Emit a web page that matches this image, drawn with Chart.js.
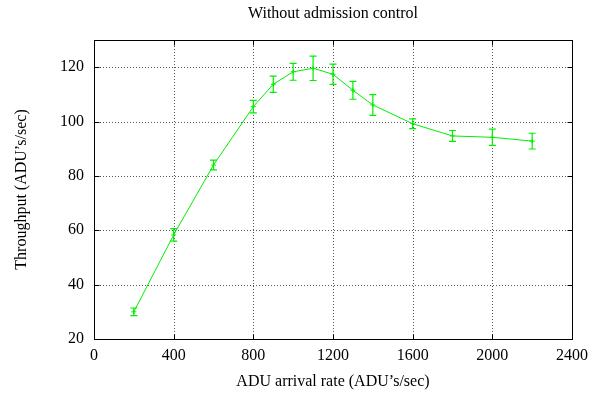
<!DOCTYPE html>
<html>
<head>
<meta charset="utf-8">
<script src="https://cdn.jsdelivr.net/npm/chart.js@4/dist/chart.umd.min.js"></script>
<style>
  html, body { margin: 0; padding: 0; background: #fff; }
  #wrap { width: 605px; height: 394px; }
</style>
</head>
<body>
<div id="wrap"><canvas id="c" width="605" height="394"></canvas></div>
<script>
// Offered load (ADU's/sec) and measured throughput with its error half-width
const arrivalRate = [200, 400, 600, 800, 900, 1000, 1100, 1200, 1300, 1400, 1600, 1800, 2000, 2200];
const throughput  = [30.0, 58.3, 84.0, 105.5, 113.7, 118.3, 119.6, 117.4, 111.5, 106.1, 99.2, 94.7, 94.2, 92.8];
const errorHalf   = [1.4, 2.3, 1.8, 2.3, 3.0, 3.1, 4.5, 3.7, 3.3, 3.8, 1.8, 2.0, 3.0, 2.9];

const xTicks = [0, 400, 800, 1200, 1600, 2000, 2400];
const yTicks = [20, 40, 60, 80, 100, 120];

const GREEN = '#00ee00';
const FONT = "'Liberation Serif', 'Times New Roman', serif";

const snap = v => Math.round(v) + 0.5;

// Dotted grid at the interior tick positions
const dottedGrid = {
  id: 'dottedGrid',
  beforeDatasetsDraw(chart) {
    const {ctx, chartArea: a, scales: {x, y}} = chart;
    ctx.save();
    ctx.strokeStyle = '#555';
    ctx.lineWidth = 1;
    ctx.setLineDash([1, 2]);
    ctx.beginPath();
    xTicks.forEach(v => {
      if (v === x.min || v === x.max) return;
      const px = snap(x.getPixelForValue(v));
      ctx.moveTo(px, a.top); ctx.lineTo(px, a.bottom);
    });
    yTicks.forEach(v => {
      if (v === y.min || v === y.max) return;
      const py = snap(y.getPixelForValue(v));
      ctx.moveTo(a.left, py); ctx.lineTo(a.right, py);
    });
    ctx.stroke();
    ctx.restore();
  }
};

// Vertical error bars with caps, drawn through the chart's scales
const errorBars = {
  id: 'errorBars',
  afterDatasetsDraw(chart) {
    const {ctx, scales: {x, y}} = chart;
    ctx.save();
    ctx.strokeStyle = GREEN;
    ctx.lineWidth = 1.2;
    const cap = 3.5;
    arrivalRate.forEach((r, i) => {
      const px = x.getPixelForValue(r);
      const top = y.getPixelForValue(throughput[i] + errorHalf[i]);
      const bot = y.getPixelForValue(throughput[i] - errorHalf[i]);
      ctx.beginPath();
      ctx.moveTo(px, top); ctx.lineTo(px, bot);
      ctx.moveTo(px - cap, top); ctx.lineTo(px + cap, top);
      ctx.moveTo(px - cap, bot); ctx.lineTo(px + cap, bot);
      ctx.stroke();
    });
    ctx.restore();
  }
};

// Frame around the plot with inward tick marks on all four sides
const frame = {
  id: 'frame',
  afterDraw(chart) {
    const {ctx, scales: {x, y}} = chart;
    const len = 5;
    const L = snap(x.getPixelForValue(x.min)), R = snap(x.getPixelForValue(x.max));
    const B = snap(y.getPixelForValue(y.min)), T = snap(y.getPixelForValue(y.max));
    ctx.save();
    ctx.strokeStyle = '#000';
    ctx.lineWidth = 1;
    ctx.strokeRect(L, T, R - L, B - T);
    ctx.beginPath();
    xTicks.forEach(v => {
      const px = snap(x.getPixelForValue(v));
      ctx.moveTo(px, B); ctx.lineTo(px, B - len);
      ctx.moveTo(px, T); ctx.lineTo(px, T + len);
    });
    yTicks.forEach(v => {
      const py = snap(y.getPixelForValue(v));
      ctx.moveTo(L, py); ctx.lineTo(L + len, py);
      ctx.moveTo(R, py); ctx.lineTo(R - len, py);
    });
    ctx.stroke();
    ctx.restore();
  }
};

new Chart(document.getElementById('c'), {
  type: 'line',
  data: {
    datasets: [{
      data: arrivalRate.map((r, i) => ({x: r, y: throughput[i]})),
      borderColor: GREEN,
      backgroundColor: GREEN,
      borderWidth: 1,
      tension: 0,
      pointStyle: 'cross',
      pointRadius: 2.5,
      pointBorderWidth: 1,
      fill: false
    }]
  },
  options: {
    responsive: false,
    animation: false,
    devicePixelRatio: 1,
    layout: { padding: { left: 0, right: 33, top: 0, bottom: 0 } },
    plugins: {
      legend: { display: false },
      tooltip: { enabled: false },
      title: {
        display: true,
        text: 'Without admission control',
        fullSize: false,
        color: '#000',
        font: { family: FONT, size: 16, weight: 'normal' },
        padding: { top: 4, bottom: 16.8 }
      }
    },
    scales: {
      x: {
        type: 'linear',
        min: 0, max: 2400,
        afterBuildTicks(s) { s.ticks = xTicks.map(v => ({value: v})); },
        afterFit(s) { s.height = 55; },
        grid: { display: false, drawTicks: false },
        border: { display: false },
        ticks: {
          color: '#000',
          padding: 7,
          maxRotation: 0,
          font: { family: FONT, size: 16 },
          callback: v => String(v)
        },
        title: {
          display: true,
          text: 'ADU arrival rate (ADU\u2019s/sec)',
          color: '#000',
          font: { family: FONT, size: 16 },
          padding: { top: 0, bottom: 3 }
        }
      },
      y: {
        type: 'linear',
        min: 20, max: 130,
        afterBuildTicks(s) { s.ticks = yTicks.map(v => ({value: v})); },
        afterFit(s) { s.width = 94; },
        grid: { display: false, drawTicks: false },
        border: { display: false },
        ticks: {
          color: '#000',
          padding: 10,
          font: { family: FONT, size: 16 },
          callback: v => String(v)
        },
        title: {
          display: true,
          text: 'Throughput (ADU\u2019s/sec)',
          color: '#000',
          font: { family: FONT, size: 16 },
          padding: { top: 12, bottom: 0 }
        }
      }
    }
  },
  plugins: [dottedGrid, errorBars, frame]
});
</script>
</body>
</html>
